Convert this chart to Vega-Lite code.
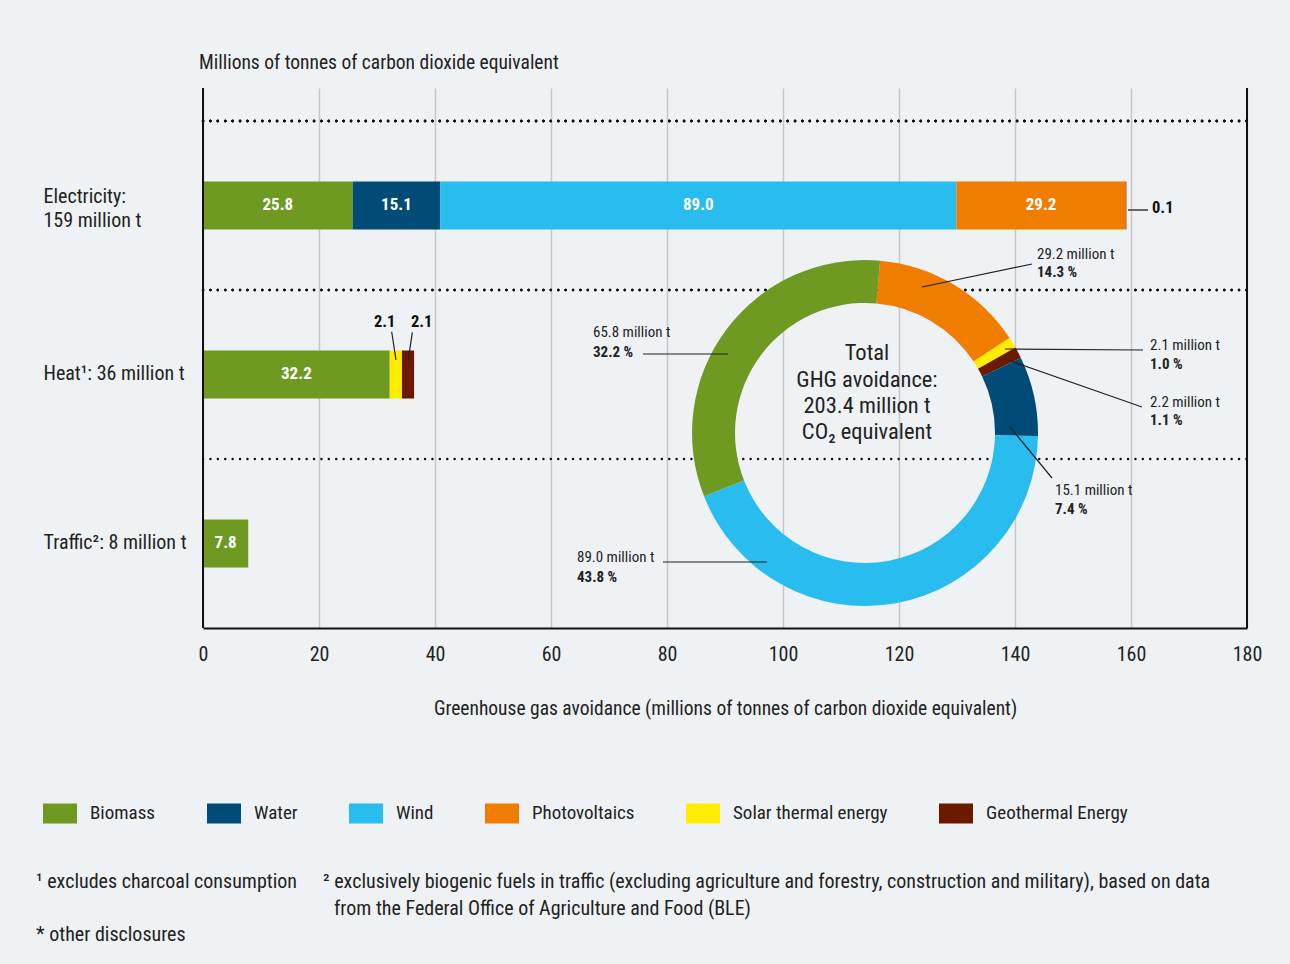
{
  "$schema": "https://vega.github.io/schema/vega-lite/v6.json",
  "width": 1044,
  "height": 540,
  "autosize": {"type": "none"},
  "padding": {"left": 203, "top": 88, "right": 43, "bottom": 336},
  "background": "#eef2f5",
  "config": {"font": "Roboto Condensed, Roboto, sans-serif", "view": {"stroke": null}},
  "title": {"text": "Millions of tonnes of carbon dioxide equivalent", "anchor": "start", "frame": "group", "fontSize": 19.5, "fontWeight": "normal", "color": "#222", "offset": 14, "dx": -4},
  "datasets": {
    "bars": [
      {"cat": "Electricity", "source": "Biomass", "value": 25.8, "ord": 1},
      {"cat": "Electricity", "source": "Water", "value": 15.1, "ord": 2},
      {"cat": "Electricity", "source": "Wind", "value": 89.0, "ord": 3},
      {"cat": "Electricity", "source": "Photovoltaics", "value": 29.2, "ord": 4},
      {"cat": "Electricity", "source": "Geothermal Energy", "value": 0.1, "ord": 6},
      {"cat": "Heat", "source": "Biomass", "value": 32.2, "ord": 1},
      {"cat": "Heat", "source": "Solar thermal energy", "value": 2.1, "ord": 5},
      {"cat": "Heat", "source": "Geothermal Energy", "value": 2.1, "ord": 6},
      {"cat": "Traffic", "source": "Biomass", "value": 7.8, "ord": 1}
    ],
    "donut": [
      {"source": "Photovoltaics", "value": 29.2, "pos": 1},
      {"source": "Solar thermal energy", "value": 2.1, "pos": 2},
      {"source": "Geothermal Energy", "value": 2.2, "pos": 3},
      {"source": "Water", "value": 15.1, "pos": 4},
      {"source": "Wind", "value": 89.0, "pos": 5},
      {"source": "Biomass", "value": 65.8, "pos": 6}
    ],
    "frame": [{"edge": 0}, {"edge": 180}],
    "leaders": [
      {"role": "lead", "x": 142.93, "y": 30.34, "x2": 123.97, "y2": 34.31},
      {"role": "lead", "x": 75.86, "y": 45.86, "x2": 90.52, "y2": 45.86},
      {"role": "lead", "x": 162.07, "y": 45.17, "x2": 138.28, "y2": 45.0},
      {"role": "lead", "x": 161.9, "y": 55.0, "x2": 138.79, "y2": 46.9},
      {"role": "lead", "x": 146.38, "y": 67.24, "x2": 139.14, "y2": 58.45},
      {"role": "lead", "x": 79.31, "y": 81.72, "x2": 97.24, "y2": 81.72},
      {"role": "lead", "x": 32.53, "y": 42.02, "x2": 33.28, "y2": 46.9},
      {"role": "lead", "x": 36.09, "y": 42.12, "x2": 35.4, "y2": 46.78},
      {"role": "barlead", "x": 159.48, "y": 21.03, "x2": 162.93, "y2": 21.03}
    ],
    "notes": [
      {"role": "amount", "x": 143.79, "y": 28.62, "t": "29.2 million t"},
      {"role": "share", "x": 143.79, "y": 31.72, "t": "14.3 %"},
      {"role": "amount", "x": 67.24, "y": 42.07, "t": "65.8 million t"},
      {"role": "share", "x": 67.24, "y": 45.52, "t": "32.2 %"},
      {"role": "amount", "x": 163.28, "y": 44.31, "t": "2.1 million t"},
      {"role": "share", "x": 163.28, "y": 47.59, "t": "1.0 %"},
      {"role": "amount", "x": 163.28, "y": 54.14, "t": "2.2 million t"},
      {"role": "share", "x": 163.28, "y": 57.24, "t": "1.1 %"},
      {"role": "amount", "x": 146.9, "y": 69.31, "t": "15.1 million t"},
      {"role": "share", "x": 146.9, "y": 72.59, "t": "7.4 %"},
      {"role": "amount", "x": 64.48, "y": 80.86, "t": "89.0 million t"},
      {"role": "share", "x": 64.48, "y": 84.31, "t": "43.8 %"},
      {"role": "center", "x": 114.48, "y": 45.69, "t": "Total"},
      {"role": "center", "x": 114.48, "y": 50.34, "t": "GHG avoidance:"},
      {"role": "center", "x": 114.48, "y": 54.83, "t": "203.4 million t"},
      {"role": "center", "x": 114.48, "y": 59.31, "t": "CO₂ equivalent"},
      {"role": "barnote", "x": 29.48, "y": 40.34, "t": "2.1"},
      {"role": "barnote", "x": 35.86, "y": 40.34, "t": "2.1"},
      {"role": "barnote", "x": 163.62, "y": 20.69, "t": "0.1"},
      {"role": "foot", "x": -28.79, "y": 136.9, "t": "¹ excludes charcoal consumption"},
      {"role": "foot", "x": 20.69, "y": 136.9, "t": "² exclusively biogenic fuels in traffic (excluding agriculture and forestry, construction and military), based on data"},
      {"role": "foot", "x": 22.59, "y": 141.55, "t": "from the Federal Office of Agriculture and Food (BLE)"},
      {"role": "foot", "x": -28.79, "y": 146.03, "t": "* other disclosures"}
    ]
  },
  "resolve": {"scale": {"y": "independent"}},
  "layer": [
    {
      "data": {"name": "bars"},
      "mark": {"type": "rule", "strokeDash": [0.1, 7.3], "strokeCap": "round", "strokeWidth": 2.4, "color": "#111"},
      "encoding": {
        "y": {"field": "cat", "type": "nominal", "bandPosition": 0, "sort": ["Electricity", "Heat", "Traffic"], "scale": {"type": "band", "paddingInner": 0, "paddingOuter": 0.0976, "align": 1},
          "axis": {"title": null, "domain": false, "ticks": false, "tickSize": 0, "grid": false, "labelAlign": "left", "labelBaseline": "middle", "labelPadding": 160,
            "labelOffset": {"condition": {"test": "datum.value == 'Electricity'", "value": -8}, "value": 0},
            "labelFontSize": 20, "labelColor": "#222", "labelLimit": 250, "labelLineHeight": 24,
            "labelExpr": "datum.value == 'Electricity' ? ['Electricity:', '159 million t'] : datum.value == 'Heat' ? 'Heat¹: 36 million t' : 'Traffic²: 8 million t'"}},
        "x": {"datum": 0, "type": "quantitative", "scale": {"domain": [0, 180], "nice": false, "zero": false},
          "axis": {"title": "Greenhouse gas avoidance (millions of tonnes of carbon dioxide equivalent)", "values": [0, 20, 40, 60, 80, 100, 120, 140, 160, 180], "grid": true, "gridColor": "#c4c8cb", "gridWidth": 1.5, "domain": true, "domainColor": "#111", "domainWidth": 2, "ticks": false, "tickSize": 0, "labelFontSize": 20, "labelColor": "#222", "labelPadding": 16, "labelFlush": false, "titleFontSize": 19.5, "titleFontWeight": "normal", "titleColor": "#222", "titlePadding": 35}},
        "x2": {"datum": 180}
      }
    },
    {
      "data": {"name": "bars"},
      "transform": [
        {"stack": "value", "groupby": ["cat"], "sort": [{"field": "ord", "order": "ascending"}], "as": ["x0", "x1"]}
      ],
      "mark": {"type": "bar", "height": 48},
      "encoding": {
        "y": {"field": "cat", "type": "nominal", "sort": ["Electricity", "Heat", "Traffic"], "scale": {"type": "band", "paddingInner": 0, "paddingOuter": 0.0976, "align": 1}, "axis": null},
        "x": {"field": "x0", "type": "quantitative", "scale": {"domain": [0, 180], "nice": false, "zero": false}},
        "x2": {"field": "x1"},
        "color": {"field": "source", "type": "nominal",
          "scale": {"domain": ["Biomass", "Water", "Wind", "Photovoltaics", "Solar thermal energy", "Geothermal Energy"], "range": ["#6f9a22", "#004b78", "#29bcee", "#f07d00", "#ffec00", "#6b1a00"]},
          "legend": {"orient": "none", "legendX": -160, "legendY": 708, "direction": "horizontal", "title": null, "symbolType": "M-1,-0.59L1,-0.59L1,0.59L-1,0.59Z", "symbolSize": 1156, "symbolStrokeWidth": 0, "symbolOpacity": 1, "labelFontSize": 19, "labelColor": "#222", "labelOffset": 13, "columnPadding": 51, "labelLimit": 300}}
      }
    },
    {
      "data": {"name": "bars"},
      "transform": [
        {"stack": "value", "groupby": ["cat"], "sort": [{"field": "ord", "order": "ascending"}], "as": ["x0", "x1"]},
        {"calculate": "(datum.x0 + datum.x1) / 2", "as": "mid"},
        {"filter": "datum.value >= 5"}
      ],
      "mark": {"type": "text", "color": "white", "fontWeight": "bold", "fontSize": 17, "align": "center", "baseline": "middle"},
      "encoding": {
        "y": {"field": "cat", "type": "nominal", "sort": ["Electricity", "Heat", "Traffic"], "scale": {"type": "band", "paddingInner": 0, "paddingOuter": 0.0976, "align": 1}, "axis": null},
        "x": {"field": "mid", "type": "quantitative", "scale": {"domain": [0, 180], "nice": false, "zero": false}},
        "text": {"field": "value", "type": "quantitative", "format": ".1f"}
      }
    },
    {
      "data": {"name": "frame"},
      "mark": {"type": "rule", "color": "#111", "strokeWidth": 2},
      "encoding": {
        "x": {"field": "edge", "type": "quantitative", "scale": {"domain": [0, 180], "nice": false, "zero": false}}
      }
    },
    {
      "data": {"name": "donut"},
      "mark": {"type": "arc", "innerRadius": 130, "outerRadius": 173},
      "encoding": {
        "theta": {"field": "value", "type": "quantitative", "stack": true, "scale": {"range": [0.0873, 6.3705]}},
        "order": {"field": "pos", "type": "quantitative"},
        "color": {"field": "source", "type": "nominal", "scale": {"domain": ["Biomass", "Water", "Wind", "Photovoltaics", "Solar thermal energy", "Geothermal Energy"], "range": ["#6f9a22", "#004b78", "#29bcee", "#f07d00", "#ffec00", "#6b1a00"]}, "legend": null},
        "x": {"datum": 114.14, "type": "quantitative", "scale": {"domain": [0, 180], "nice": false, "zero": false}},
        "y": {"datum": 59.48, "type": "quantitative", "scale": {"domain": [0, 93.1], "reverse": true, "nice": false, "zero": false}, "axis": null}
      }
    },
    {
      "data": {"name": "leaders"},
      "transform": [{"filter": "datum.role == 'lead'"}],
      "mark": {"type": "rule", "color": "#222", "strokeWidth": 1.2},
      "encoding": {
        "x": {"field": "x", "type": "quantitative", "scale": {"domain": [0, 180], "nice": false, "zero": false}},
        "x2": {"field": "x2"},
        "y": {"field": "y", "type": "quantitative", "scale": {"domain": [0, 93.1], "reverse": true, "nice": false, "zero": false}, "axis": null},
        "y2": {"field": "y2"}
      }
    },
    {
      "data": {"name": "leaders"},
      "transform": [{"filter": "datum.role == 'barlead'"}],
      "mark": {"type": "rule", "color": "#666", "strokeWidth": 2},
      "encoding": {
        "x": {"field": "x", "type": "quantitative", "scale": {"domain": [0, 180], "nice": false, "zero": false}},
        "x2": {"field": "x2"},
        "y": {"field": "y", "type": "quantitative", "scale": {"domain": [0, 93.1], "reverse": true, "nice": false, "zero": false}, "axis": null},
        "y2": {"field": "y2"}
      }
    },
    {
      "data": {"name": "notes"},
      "transform": [{"filter": "datum.role == 'amount'"}],
      "mark": {"type": "text", "align": "left", "baseline": "middle", "fontSize": 15, "color": "#222"},
      "encoding": {
        "x": {"field": "x", "type": "quantitative", "scale": {"domain": [0, 180], "nice": false, "zero": false}},
        "y": {"field": "y", "type": "quantitative", "scale": {"domain": [0, 93.1], "reverse": true, "nice": false, "zero": false}, "axis": null},
        "text": {"field": "t"}
      }
    },
    {
      "data": {"name": "notes"},
      "transform": [{"filter": "datum.role == 'share'"}],
      "mark": {"type": "text", "align": "left", "baseline": "middle", "fontSize": 15, "fontWeight": "bold", "color": "#222"},
      "encoding": {
        "x": {"field": "x", "type": "quantitative", "scale": {"domain": [0, 180], "nice": false, "zero": false}},
        "y": {"field": "y", "type": "quantitative", "scale": {"domain": [0, 93.1], "reverse": true, "nice": false, "zero": false}, "axis": null},
        "text": {"field": "t"}
      }
    },
    {
      "data": {"name": "notes"},
      "transform": [{"filter": "datum.role == 'center'"}],
      "mark": {"type": "text", "align": "center", "baseline": "middle", "fontSize": 22.5, "color": "#222"},
      "encoding": {
        "x": {"field": "x", "type": "quantitative", "scale": {"domain": [0, 180], "nice": false, "zero": false}},
        "y": {"field": "y", "type": "quantitative", "scale": {"domain": [0, 93.1], "reverse": true, "nice": false, "zero": false}, "axis": null},
        "text": {"field": "t"}
      }
    },
    {
      "data": {"name": "notes"},
      "transform": [{"filter": "datum.role == 'barnote'"}],
      "mark": {"type": "text", "align": "left", "baseline": "middle", "fontSize": 16.5, "fontWeight": "bold", "color": "#111"},
      "encoding": {
        "x": {"field": "x", "type": "quantitative", "scale": {"domain": [0, 180], "nice": false, "zero": false}},
        "y": {"field": "y", "type": "quantitative", "scale": {"domain": [0, 93.1], "reverse": true, "nice": false, "zero": false}, "axis": null},
        "text": {"field": "t"}
      }
    },
    {
      "data": {"name": "notes"},
      "transform": [{"filter": "datum.role == 'foot'"}],
      "mark": {"type": "text", "align": "left", "baseline": "middle", "fontSize": 20, "color": "#222"},
      "encoding": {
        "x": {"field": "x", "type": "quantitative", "scale": {"domain": [0, 180], "nice": false, "zero": false}},
        "y": {"field": "y", "type": "quantitative", "scale": {"domain": [0, 93.1], "reverse": true, "nice": false, "zero": false}, "axis": null},
        "text": {"field": "t"}
      }
    }
  ]
}
